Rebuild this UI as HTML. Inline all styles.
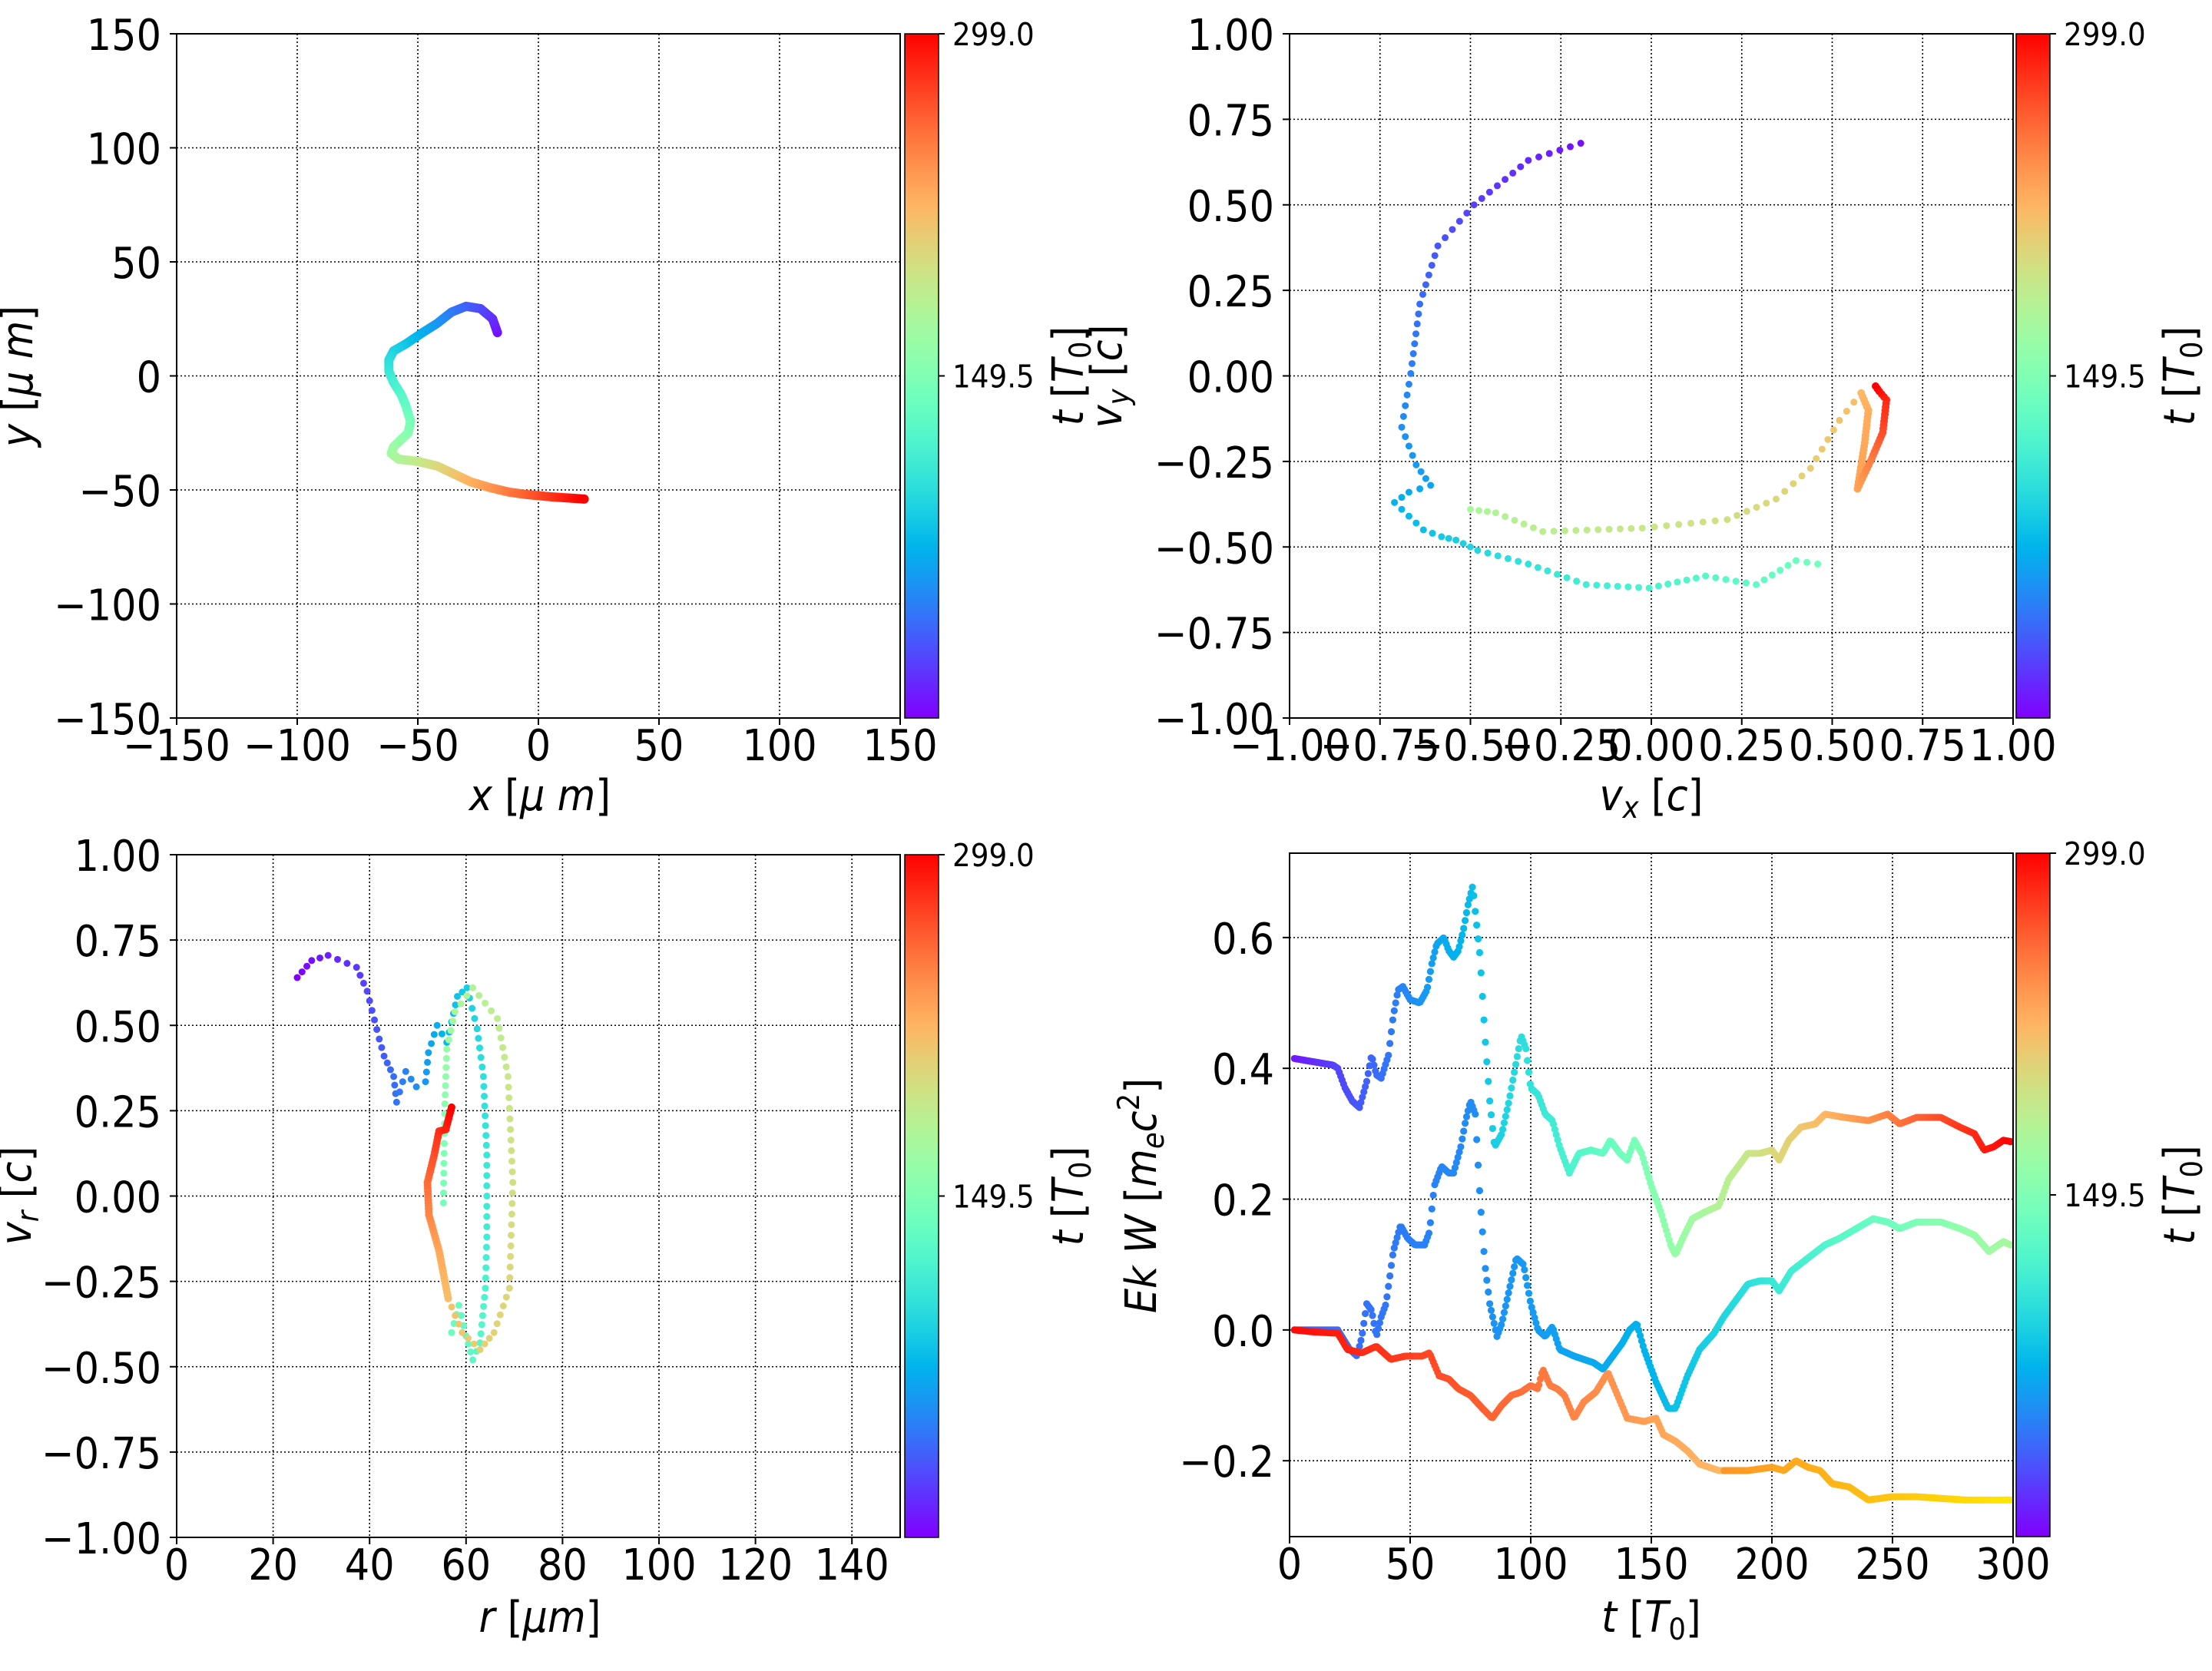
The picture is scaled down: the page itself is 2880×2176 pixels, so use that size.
<!DOCTYPE html>
<html><head><meta charset="utf-8"><style>
html,body{margin:0;padding:0;background:#fff;}
svg{display:block;}
text{font-family:"DejaVu Sans","Liberation Sans",sans-serif;fill:#000;}
.it{font-style:italic;}
</style></head><body>
<svg id="s" xmlns="http://www.w3.org/2000/svg" width="2880" height="2176" viewBox="0 0 2880 2176">
<defs>
<linearGradient id="rb" x1="0" y1="1" x2="0" y2="0"></linearGradient>
</defs>
<rect width="2880" height="2176" fill="#fff"/>
<g id="g"></g>
</svg>
<script>
(function(){
const NS="http://www.w3.org/2000/svg";
const g=document.getElementById('g');
const SX=0.91;
function el(t,a,p){const e=document.createElementNS(NS,t);for(const k in a)e.setAttribute(k,a[k]);(p||g).appendChild(e);return e;}
function txt(x,y,size,anchor,html,rot){
 const grp=el('g',{transform:`translate(${x},${y})`+(rot?' rotate(-90)':'')+` scale(${SX},1)`});
 const t=el('text',{x:0,y:0,'font-size':size,'text-anchor':anchor},grp);t.innerHTML=html;return t;}
function rainbow(x){x=Math.max(0,Math.min(1,x));let r=Math.min(1,Math.abs(2*x-0.5)),gg=Math.sin(Math.PI*x),b=Math.cos(Math.PI*x/2);
return `rgb(${Math.round(r*255)},${Math.round(gg*255)},${Math.round(Math.max(0,b)*255)})`;}
const grad=document.getElementById('rb');
for(let i=0;i<=20;i++){el('stop',{offset:i/20,'stop-color':rainbow(i/20)},grad);}
function fmt(v,d){let s=Math.abs(v).toFixed(d);return (v<-1e-9?'\u2212':'')+s;}
function panel(P){
 const sx=v=>P.x0+(v-P.xr[0])/(P.xr[1]-P.xr[0])*(P.x1-P.x0);
 const sy=v=>P.y1-(v-P.yr[0])/(P.yr[1]-P.yr[0])*(P.y1-P.y0);
 P.sx=sx;P.sy=sy;
 P.xt.forEach(v=>{const x=sx(v);el('line',{x1:x,x2:x,y1:P.y0,y2:P.y1,stroke:'#000','stroke-width':1.6,'stroke-dasharray':'2,3'});
  el('line',{x1:x,x2:x,y1:P.y1,y2:P.y1+9,stroke:'#000','stroke-width':2});
  txt(x,P.y1+55,56,'middle',fmt(v,P.xd));});
 P.yt.forEach(v=>{const y=sy(v);el('line',{x1:P.x0,x2:P.x1,y1:y,y2:y,stroke:'#000','stroke-width':1.6,'stroke-dasharray':'2,3'});
  el('line',{x1:P.x0-9,x2:P.x0,y1:y,y2:y,stroke:'#000','stroke-width':2});
  txt(P.x0-20,y+21,56,'end',fmt(v,P.yd));});
 el('rect',{x:P.cb,y:P.y0,width:44,height:P.y1-P.y0,fill:'url(#rb)',stroke:'#000','stroke-width':1.5});
 const cym=(P.y0+P.y1)/2;
 [[P.y0,'299.0'],[cym,'149.5']].forEach(([y,s])=>{el('line',{x1:P.cb+44,x2:P.cb+52,y1:y,y2:y,stroke:'#000','stroke-width':2});
  txt(P.cb+62,y+15,41,'start',s);});
 txt(P.cb+232,cym,56,'middle','<tspan class="it">t</tspan> [<tspan class="it">T</tspan><tspan font-size="39" dy="10">0</tspan><tspan dy="-10">]</tspan>',true);
}
function dots(P,pts,spacing,r,clipId){
 const grp=el('g',{'clip-path':`url(#${clipId})`});
 for(let i=0;i<pts.length-1;i++){
  const a=pts[i],b=pts[i+1];
  const ax=P.sx(a[0]),ay=P.sy(a[1]),bx=P.sx(b[0]),by=P.sy(b[1]);
  const n=Math.max(1,Math.ceil(Math.hypot(bx-ax,by-ay)/spacing));
  for(let k=0;k<n;k++){const f=k/n;el('circle',{cx:ax+(bx-ax)*f,cy:ay+(by-ay)*f,r:r,fill:rainbow(a[2]+(b[2]-a[2])*f)},grp);}
 }
 const L=pts[pts.length-1];el('circle',{cx:P.sx(L[0]),cy:P.sy(L[1]),r:r,fill:rainbow(L[2])},grp);
}
function clip(id,P){const d=document.querySelector('defs');const c=el('clipPath',{id:id},d);el('rect',{x:P.x0,y:P.y0,width:P.x1-P.x0,height:P.y1-P.y0},c);}
function frame(P){el('rect',{x:P.x0,y:P.y0,width:P.x1-P.x0,height:P.y1-P.y0,fill:'none',stroke:'#000','stroke-width':2});}
function rng(a,b,s){const r=[];for(let v=a;v<=b+1e-9;v+=s)r.push(Math.round(v*1000)/1000);return r;}

const P1={x0:230,x1:1172,y0:44,y1:935,xr:[-150,150],yr:[-150,150],xt:rng(-150,150,50),yt:rng(-150,150,50),xd:0,yd:0,cb:1178};
panel(P1);clip('c1',P1);
let p1=[[-17,19],[-19,25],[-24,29.5],[-30,30.5],[-36,28],[-42,23],[-48,19],[-55,14],[-60,11],[-62,7],[-62,2],[-60,-3],[-57,-8],[-55,-13],[-53,-20],[-54,-25],[-57,-28],[-60,-31],[-61,-34],[-58,-36.5],[-50,-37.5],[-42,-39.5],[-35,-43],[-28,-46.5],[-20,-49],[-12,-51],[-5,-52],[5,-53],[19,-54]];
{let L=[0];for(let i=1;i<p1.length;i++)L.push(L[i-1]+Math.hypot(p1[i][0]-p1[i-1][0],p1[i][1]-p1[i-1][1]));p1=p1.map((p,i)=>[p[0],p[1],0.02+0.98*L[i]/L[L.length-1]]);}
dots(P1,p1,2.5,6,'c1');frame(P1);
txt(703,1055,56,'middle','<tspan class="it">x</tspan>  [<tspan class="it">μ m</tspan>]');
txt(42,490,56,'middle','<tspan class="it">y</tspan>  [<tspan class="it">μ m</tspan>]',true);

const P2={x0:1679,x1:2621,y0:44,y1:935,xr:[-1,1],yr:[-1,1],xt:rng(-1,1,0.25),yt:rng(-1,1,0.25),xd:2,yd:2,cb:2625};
panel(P2);clip('c2',P2);
const p2a=[[-0.195,0.68,0.02],[-0.34,0.63,0.05],[-0.49,0.50,0.08],[-0.59,0.38,0.11],[-0.64,0.21,0.14],[-0.665,0.007,0.17],[-0.69,-0.15,0.19],[-0.65,-0.26,0.21],[-0.61,-0.32,0.22],[-0.67,-0.34,0.23],[-0.71,-0.37,0.25],[-0.63,-0.45,0.27],[-0.58,-0.47,0.29],[-0.54,-0.48,0.3],[-0.48,-0.51,0.32],[-0.34,-0.55,0.35],[-0.18,-0.61,0.38],[-0.006,-0.62,0.4],[0.15,-0.585,0.42],[0.29,-0.61,0.44],[0.40,-0.54,0.46],[0.46,-0.55,0.48]];
const p2b=[[-0.50,-0.39,0.58],[-0.43,-0.40,0.6],[-0.30,-0.455,0.62],[-0.025,-0.445,0.64],[0.21,-0.42,0.66],[0.345,-0.36,0.68],[0.44,-0.27,0.7],[0.52,-0.13,0.72],[0.58,-0.05,0.74],[0.60,-0.10,0.76],[0.59,-0.195,0.77],[0.57,-0.33,0.78],[0.61,-0.24,0.84],[0.64,-0.165,0.9],[0.65,-0.07,0.95],[0.63,-0.045,0.98],[0.62,-0.03,1]];
dots(P2,p2a,15,4.5,'c2');dots(P2,p2b.slice(0,9),16,4.5,'c2');dots(P2,p2b.slice(8),5,5,'c2');frame(P2);
txt(2150,1055,56,'middle','<tspan class="it">v</tspan><tspan class="it" font-size="39" dy="10">x</tspan><tspan dy="-10"> [</tspan><tspan class="it">c</tspan>]');
txt(1460,490,56,'middle','<tspan class="it">v</tspan><tspan class="it" font-size="39" dy="10">y</tspan><tspan dy="-10"> [</tspan><tspan class="it">c</tspan>]',true);

const P3={x0:230,x1:1172,y0:1113,y1:2002,xr:[0,150],yr:[-1,1],xt:rng(0,140,20),yt:rng(-1,1,0.25),xd:0,yd:2,cb:1178};
panel(P3);clip('c3',P3);
const p3a=[[25,0.64,0.0],[28,0.69,0.02],[31.4,0.705,0.04],[37.3,0.67,0.07],[39.5,0.60,0.09],[42,0.46,0.11],[43,0.41,0.12],[45,0.35,0.14],[45.6,0.275,0.15],[47.5,0.365,0.17],[49.7,0.32,0.19],[51.6,0.335,0.2],[52.2,0.42,0.22],[54,0.5,0.24],[56,0.45,0.26],[57,0.51,0.27],[58.2,0.585,0.28],[60.2,0.61,0.3],[62.3,0.49,0.32],[63.6,0.35,0.34],[64.3,0.12,0.36],[64.3,-0.12,0.38],[64,-0.27,0.4],[62.9,-0.43,0.42],[61.4,-0.48,0.43],[60,-0.41,0.44],[58.5,-0.32,0.45],[57,-0.40,0.46]];
const p3b=[[55.3,-0.02,0.48],[55.6,0.27,0.52],[56,0.43,0.55],[57.7,0.54,0.58],[61.4,0.61,0.6],[66.5,0.52,0.62],[68.7,0.35,0.64],[69.7,0.04,0.66],[69,-0.27,0.68],[65.8,-0.40,0.69],[62.9,-0.45,0.7],[59.2,-0.40,0.71],[56.3,-0.30,0.73]];
const p3c=[[56.3,-0.30,0.73],[54.4,-0.16,0.77],[52.3,-0.055,0.82],[52,0.04,0.86],[53.4,0.12,0.9],[54.4,0.19,0.94],[55.8,0.195,0.96],[57,0.26,1]];
dots(P3,p3a,14,4.5,'c3');dots(P3,p3b,14,4.5,'c3');dots(P3,p3c,4,5,'c3');frame(P3);
txt(703,2125,56,'middle','<tspan class="it">r</tspan> [<tspan class="it">μm</tspan>]');
txt(40,1557,56,'middle','<tspan class="it">v</tspan><tspan class="it" font-size="39" dy="10">r</tspan><tspan dy="-10"> [</tspan><tspan class="it">c</tspan>]',true);

const P4={x0:1679,x1:2621,y0:1111,y1:2001,xr:[0,300],yr:[-0.316,0.729],xt:rng(0,300,50),yt:[-0.2,0,0.2,0.4,0.6],xd:0,yd:1,cb:2625};
panel(P4);clip('c4',P4);
const topS=[[2,0.415],[10,0.41],[18,0.405],[20,0.4],[23,0.37],[26,0.35],[29,0.34],[32,0.38],[34,0.42],[36,0.39],[38,0.385],[41,0.42],[43,0.48],[45,0.52],[47,0.525],[50,0.505],[54,0.5],[57,0.52],[59,0.56],[61,0.59],[64,0.6],[66,0.58],[68,0.57],[70,0.58],[72,0.61],[74,0.65],[76,0.68],[77,0.64],[79,0.57],[81,0.45],[83,0.35],[85,0.28],[88,0.3],[91,0.35],[94,0.41],[96,0.45],[98,0.43],[100,0.37],[103,0.36],[106,0.33],[109,0.32],[112,0.28],[116,0.24],[120,0.27],[125,0.275],[130,0.27],[133,0.29],[137,0.27],[140,0.26],[143,0.29],[146,0.27],[150,0.22],[154,0.18],[158,0.13],[160,0.115],[163,0.14],[167,0.17],[172,0.18],[178,0.19],[182,0.23],[186,0.25],[190,0.27],[195,0.27],[200,0.275],[203,0.26],[207,0.29],[212,0.31],[218,0.315],[222,0.33],[230,0.325],[240,0.32],[248,0.33],[253,0.315],[260,0.325],[270,0.325],[278,0.31],[284,0.3],[288,0.275],[292,0.28],[296,0.29],[299,0.288]];
const midS=[[2,0],[10,0],[20,0],[25,-0.03],[28,-0.04],[30,-0.01],[32,0.04],[34,0.03],[36,-0.01],[38,0.02],[40,0.04],[43,0.12],[46,0.16],[49,0.14],[52,0.13],[56,0.13],[58,0.15],[60,0.22],[63,0.25],[66,0.24],[68,0.24],[71,0.28],[73,0.32],[75,0.35],[77,0.33],[79,0.2],[81,0.1],[83,0.04],[86,-0.01],[88,0.01],[91,0.06],[94,0.11],[97,0.1],[100,0.04],[103,0],[106,-0.01],[109,0.005],[112,-0.03],[118,-0.04],[126,-0.05],[130,-0.06],[134,-0.04],[138,-0.02],[141,0],[144,0.01],[147,-0.03],[152,-0.08],[157,-0.12],[160,-0.12],[165,-0.07],[170,-0.03],[176,-0.005],[180,0.02],[184,0.04],[190,0.07],[195,0.075],[200,0.075],[203,0.06],[208,0.09],[215,0.11],[222,0.13],[228,0.14],[235,0.155],[242,0.17],[248,0.165],[253,0.155],[260,0.165],[270,0.165],[278,0.155],[284,0.145],[290,0.12],[296,0.135],[299,0.13]];
const botS=[[2,0],[10,-0.003],[20,-0.005],[24,-0.03],[30,-0.035],[36,-0.025],[42,-0.045],[48,-0.04],[55,-0.04],[58,-0.035],[62,-0.07],[66,-0.075],[70,-0.09],[75,-0.1],[80,-0.12],[84,-0.135],[88,-0.115],[92,-0.1],[96,-0.095],[100,-0.085],[103,-0.09],[105,-0.06],[108,-0.085],[111,-0.09],[114,-0.1],[118,-0.135],[122,-0.11],[127,-0.095],[132,-0.065],[136,-0.1],[140,-0.135],[147,-0.14],[152,-0.135],[155,-0.16],[160,-0.17],[165,-0.185],[170,-0.205],[178,-0.215],[190,-0.215],[200,-0.21],[205,-0.215],[210,-0.2],[215,-0.21],[220,-0.215],[225,-0.235],[232,-0.24],[240,-0.26],[250,-0.255],[260,-0.255],[280,-0.26],[299,-0.26]];
function tser(arr,cf){const grp=el('g',{'clip-path':'url(#c4)'});let j=0;
 for(let tt=2;tt<=299;tt+=0.6){while(j<arr.length-2&&arr[j+1][0]<tt)j++;const a=arr[j],b=arr[j+1];const f=Math.max(0,Math.min(1,(tt-a[0])/(b[0]-a[0])));const v=a[1]+(b[1]-a[1])*f;
  el('circle',{cx:P4.sx(tt),cy:P4.sy(v),r:4.6,fill:cf(tt/300)},grp);}}
tser(midS,x=>rainbow(x<0.5?0.12+0.26*x:0.25+0.66*(x-0.5)));
tser(topS,x=>rainbow(0.02+0.98*x));
tser(botS,x=>{if(x<0.6)return rainbow(0.99-0.25*x/0.6);const f=(x-0.6)/0.4;return `rgb(255,${Math.round(150+f*80)},${Math.round(40-f*40)})`;});
frame(P4);
txt(2150,2125,56,'middle','<tspan class="it">t</tspan> [<tspan class="it">T</tspan><tspan font-size="39" dy="10">0</tspan><tspan dy="-10">]</tspan>');
txt(1505,1557,56,'middle','<tspan class="it">Ek W</tspan> [<tspan class="it">m</tspan><tspan class="it" font-size="39" dy="10">e</tspan><tspan class="it" dy="-10">c</tspan><tspan font-size="39" dy="-22">2</tspan><tspan dy="22">]</tspan>',true);
})();
</script>
</body></html>
